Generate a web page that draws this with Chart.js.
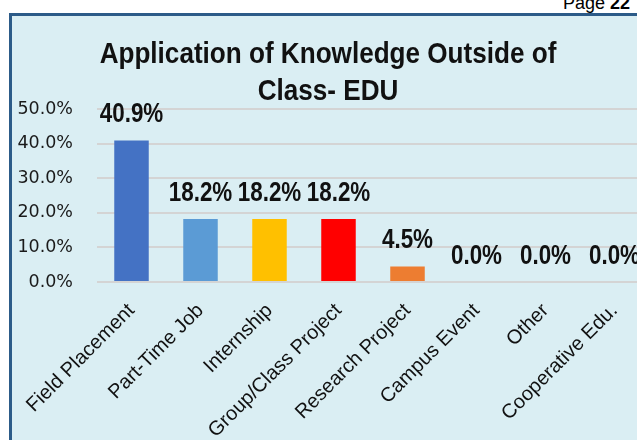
<!DOCTYPE html>
<html>
<head>
<meta charset="utf-8">
<script src="https://cdn.jsdelivr.net/npm/chart.js@4/dist/chart.umd.min.js"></script>
<style>
  body { margin: 0; background: #fff; width: 637px; height: 440px; overflow: hidden; position: relative; }
  #frame { position: absolute; left: 9px; top: 13px; width: 700px; height: 500px;
           border-left: 3px solid #2C5B88; border-top: 3px solid #2C5B88; background: #DAEEF3; }
  #pageNo { position: absolute; right: 7px; top: -7px; font: 18px "Liberation Sans", Arial, sans-serif; color: #000; }
  #wrap { position: absolute; left: 0; top: 0; width: 656px; height: 440px; }
</style>
</head>
<body>
<div id="frame"></div>
<div id="pageNo">Page <b>22</b></div>
<div id="wrap"><canvas id="myChart"></canvas></div>
<script>
const categories = ['Field Placement', 'Part-Time Job', 'Internship', 'Group/Class Project',
                    'Research Project', 'Campus Event', 'Other', 'Cooperative Edu.'];
const percentages = [40.9, 18.2, 18.2, 18.2, 4.5, 0.0, 0.0, 0.0];
const barColors = ['#4472C4', '#5B9BD5', '#FFC000', '#FF0000', '#ED7D31', '#A5A5A5', '#70AD47', '#264478'];
const yTicks = [0, 10, 20, 30, 40, 50];
const titleLines = ['Application of Knowledge Outside of', 'Class- EDU'];

const BOLD_FONT = '"Liberation Sans", Arial, sans-serif';

// no narrow font installed, so squeeze the bold text horizontally
function narrowText(ctx, text, x, y, squeeze) {
    ctx.save();
    ctx.translate(x, y);
    ctx.scale(squeeze, 1);
    ctx.fillText(text, 0, 0);
    ctx.restore();
}

// title + value labels above the bars
const narrowLabels = {
    id: 'narrowLabels',
    afterDraw(chart) {
        const ctx = chart.ctx;
        ctx.save();
        ctx.fillStyle = '#111';
        ctx.textAlign = 'center';
        ctx.textBaseline = 'alphabetic';

        ctx.font = 'bold 30px ' + BOLD_FONT;
        titleLines.forEach((line, i) => {
            narrowText(ctx, line, chart.width / 2, 63 + i * 37, 0.87);
        });

        ctx.font = 'bold 27px ' + BOLD_FONT;
        chart.getDatasetMeta(0).data.forEach((bar, i) => {
            narrowText(ctx, percentages[i].toFixed(1) + '%', bar.x, bar.y - 18, 0.83);
        });
        ctx.restore();
    }
};

let chart = new Chart(document.getElementById('myChart'), {
    type: 'bar',
    data: {
        labels: categories,
        datasets: [{
            data: percentages,
            backgroundColor: barColors,
            barPercentage: 0.5,
            categoryPercentage: 1.0
        }]
    },
    options: {
        animation: false,
        responsive: true,
        maintainAspectRatio: false,
        layout: { padding: { top: 109, right: 7, left: 0, bottom: 0 } },
        plugins: {
            legend: { display: false },
            tooltip: { enabled: false },
            title: { display: false }
        },
        scales: {
            x: {
                grid: { display: false, drawTicks: false },
                border: { display: false },
                ticks: {
                    minRotation: 45,
                    maxRotation: 45,
                    padding: 17,
                    color: '#111',
                    font: { family: '"Liberation Sans", Arial, sans-serif', size: 20 }
                },
                afterFit: (scale) => { scale.height = 158; }
            },
            y: {
                min: 0,
                max: 50,
                grid: { color: '#D4D4D4', lineWidth: 2, drawTicks: false },
                border: { display: false },
                ticks: {
                    padding: 24,
                    color: '#1a1a1a',
                    font: { family: '"DejaVu Sans", sans-serif', size: 17.5 },
                    callback: (v) => v.toFixed(1) + '%'
                },
                afterBuildTicks: (scale) => { scale.ticks = yTicks.map(v => ({ value: v })); },
                afterFit: (scale) => { scale.width = 97; }
            }
        }
    },
    plugins: [narrowLabels]
});
</script>
</body>
</html>
